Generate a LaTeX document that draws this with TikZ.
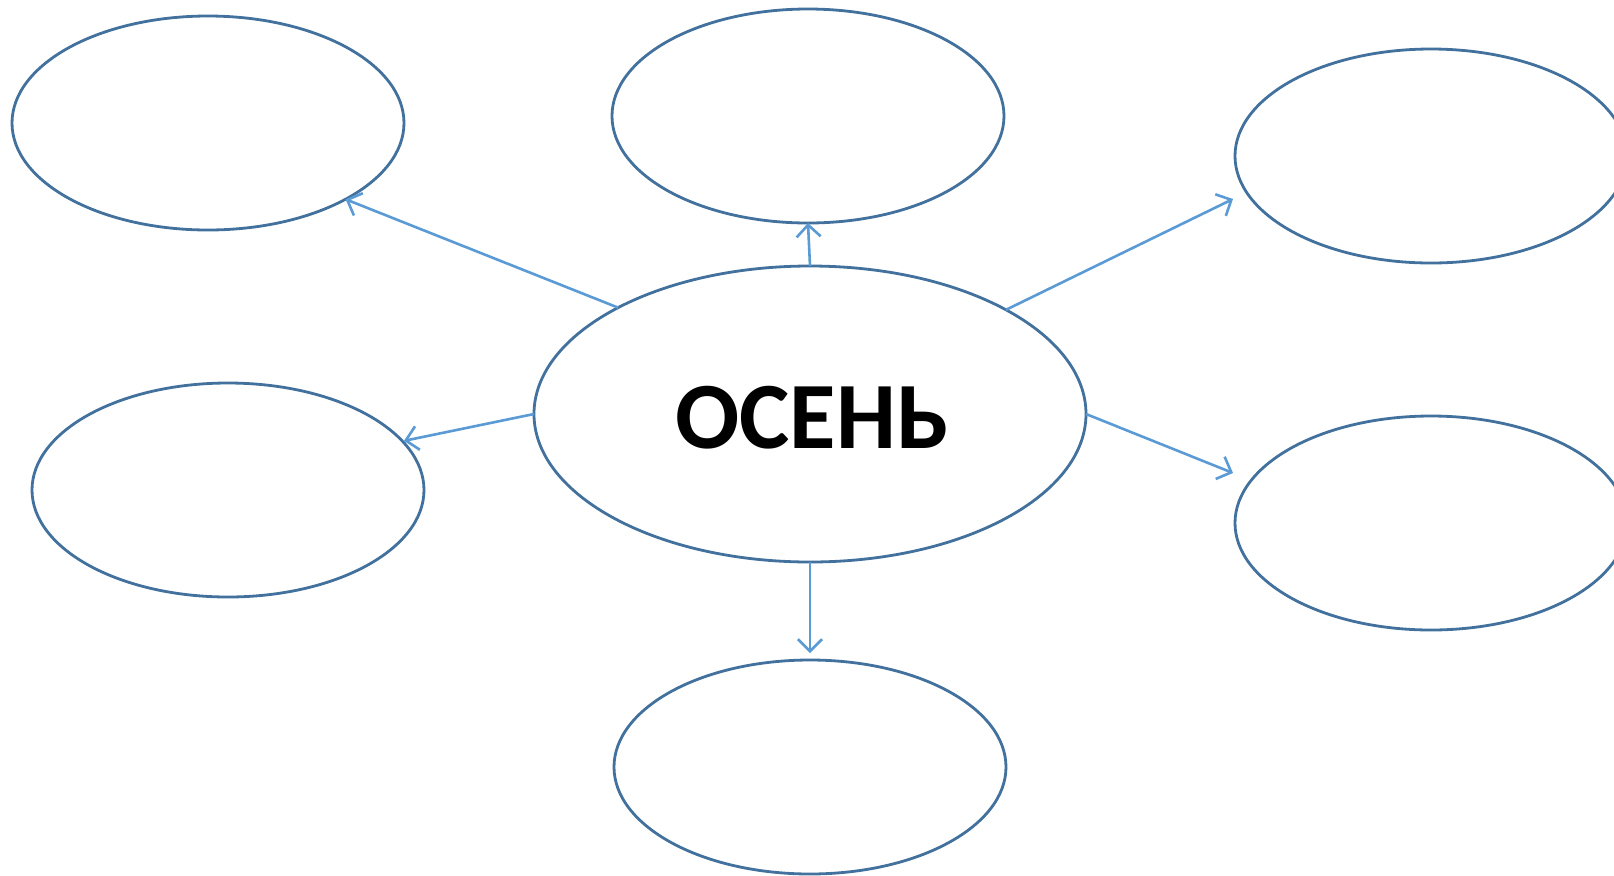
\documentclass[tikz,border=0pt]{standalone}
\usepackage{fontspec}
\newfontfamily\capfont{Carlito}
\usetikzlibrary{shapes.geometric,arrows.meta,calc}
\definecolor{Rim}{RGB}{65,113,156}
\definecolor{Ray}{RGB}{91,155,213}
\def\Wpx{1614}
\def\Hpx{875}

\tikzset{
    leaf/.style={ellipse,draw=Rim,line width=1.4pt,minimum width=196pt,minimum height=107pt,inner sep=0pt,outer sep=0pt},
    hub/.style={ellipse,draw=Rim,line width=1.4pt,minimum width=276pt,minimum height=148pt,inner sep=0pt,outer sep=0pt},
    ray/.style={draw=Ray,line width=1.3pt,-{Straight Barb[length=6pt,width=12pt,line width=1.3pt]}}
}

\begin{document}
\begin{tikzpicture}[x=0.5pt,y=-0.5pt]
    \clip (0,0) rectangle (\Wpx,\Hpx);
    \fill[white] (0,0) rectangle (\Wpx,\Hpx);
    \node[hub] (autumn) at (810,414) {};
    \node[font=\capfont\bfseries\fontsize{47.5}{56}\selectfont] (title) at (812,418) {ОСЕНЬ};
    \foreach \N/\X/\Y in {nw/208/123,n/808/116,ne/1431/156,w/228/490,e/1431/523,s/810/767} {
        \node[leaf] (\N) at (\X,\Y) {};
    }
    % rays out of the hub
    \draw[ray] (autumn.151.5) -- (nw.331.5);
    \draw[ray] (autumn.north) -- (n.south);
    \draw[ray] (autumn.28.5) -- ($(ne.west)+(-2,43)$);
    \draw[ray] (autumn.west) -- ($(w.15.8)+(0,-2)$);
    \draw[ray] (autumn.east) -- ($(e.west)+(-2,-50)$);
    \draw[ray,shorten >=3.5pt] (autumn.south) -- (s.north);
\end{tikzpicture}
\end{document}
